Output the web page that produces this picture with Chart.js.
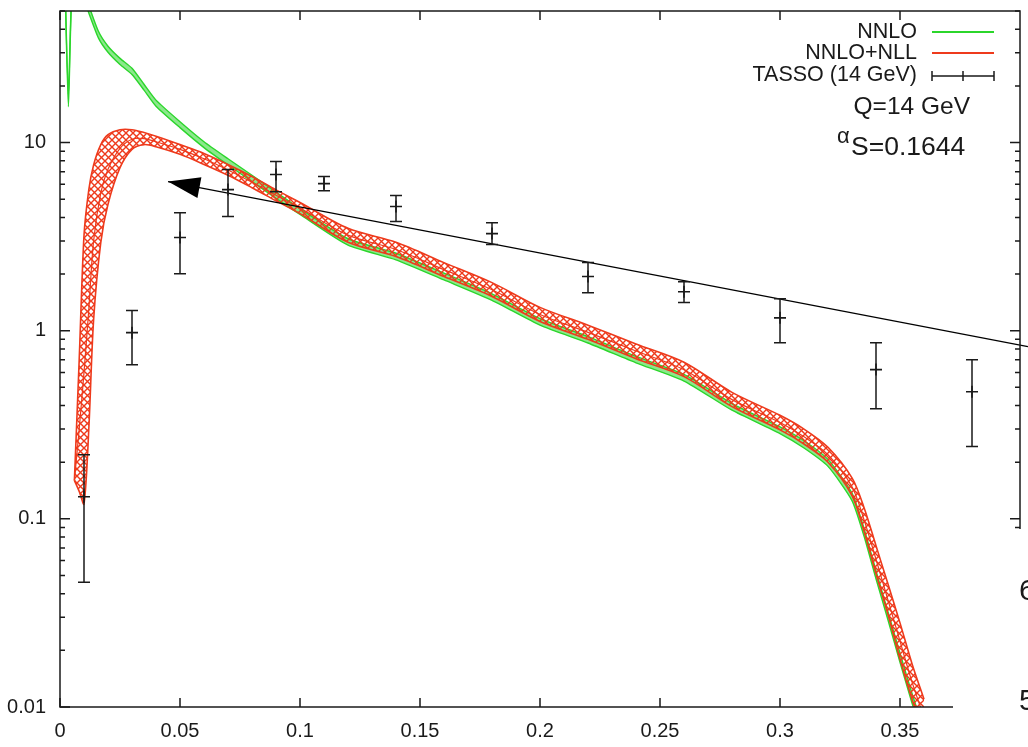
<!DOCTYPE html>
<html>
<head>
<meta charset="utf-8">
<script src="https://cdn.jsdelivr.net/npm/chart.js@4.4.0/dist/chart.umd.min.js"></script>
<style>
  html, body { margin: 0; padding: 0; background: #fff; }
  #wrap { width: 1028px; height: 747px; position: relative; }
</style>
</head>
<body>
<div id="wrap"><canvas id="c"></canvas></div>
<script>
// axis ticks
const xTicks = [0, 0.05, 0.1, 0.15, 0.2, 0.25, 0.3, 0.35];
const yTickLabels = [0.01, 0.1, 1, 10];

// NNLO band (green)
const nnloX = [0.002, 0.0035, 0.0055, 0.0105, 0.016, 0.02, 0.025, 0.03, 0.035, 0.04, 0.05, 0.06, 0.07, 0.08, 0.09, 0.1, 0.12, 0.14, 0.16, 0.18, 0.2, 0.22, 0.24, 0.26, 0.28, 0.3, 0.31, 0.32, 0.33, 0.335, 0.34, 0.345, 0.35, 0.355, 0.36];
const nnloHi = [80, 18, 80, 60, 39, 32.5, 28, 24.8, 20.4, 16.8, 12.9, 10.1, 8.2, 6.7, 5.45, 4.45, 3.08, 2.58, 2.02, 1.57, 1.16, 0.93, 0.73, 0.585, 0.41, 0.308, 0.26, 0.207, 0.137, 0.089, 0.053, 0.032, 0.0193, 0.0118, 0.0075];
const nnloLo = [80, 15.5, 80, 55, 36, 30.2, 26, 23, 19, 15.6, 12.0, 9.4, 7.6, 6.2, 5.05, 4.15, 2.85, 2.38, 1.86, 1.45, 1.07, 0.86, 0.675, 0.54, 0.378, 0.284, 0.238, 0.19, 0.125, 0.081, 0.048, 0.029, 0.0173, 0.0105, 0.0066];

// NNLO+NLL band (red)
const nllX = [0.006, 0.008, 0.01, 0.012, 0.014, 0.017, 0.02, 0.025, 0.03, 0.035, 0.04, 0.05, 0.06, 0.07, 0.08, 0.09, 0.1, 0.12, 0.14, 0.16, 0.18, 0.2, 0.22, 0.24, 0.26, 0.28, 0.3, 0.31, 0.32, 0.33, 0.335, 0.34, 0.345, 0.35, 0.355, 0.36];
const nllHi = [0.16, 0.7, 3.2, 5.6, 7.6, 9.75, 11.0, 11.7, 11.7, 11.3, 10.8, 9.75, 8.75, 7.65, 6.6, 5.6, 4.8, 3.5, 2.95, 2.3, 1.8, 1.33, 1.07, 0.85, 0.68, 0.47, 0.355, 0.30, 0.24, 0.165, 0.115, 0.072, 0.045, 0.028, 0.017, 0.011];
const nllMid = [0.16, 0.3, 0.6, 1.3, 3.0, 5.4, 7.2, 9.3, 10.4, 10.5, 10.1, 9.2, 8.2, 7.15, 6.15, 5.25, 4.48, 3.22, 2.7, 2.11, 1.65, 1.22, 0.98, 0.78, 0.62, 0.43, 0.325, 0.273, 0.219, 0.148, 0.099, 0.061, 0.037, 0.0224, 0.0136, 0.0088];
const nllLo = [0.16, 0.14, 0.12, 0.30, 1.14, 2.95, 4.7, 7.35, 9.2, 9.75, 9.5, 8.65, 7.65, 6.7, 5.75, 4.9, 4.19, 2.95, 2.48, 1.94, 1.52, 1.12, 0.9, 0.71, 0.57, 0.395, 0.297, 0.25, 0.20, 0.133, 0.086, 0.051, 0.031, 0.018, 0.011, 0.0071];

// TASSO (14 GeV) data with error bars
const tassoX = [0.01, 0.03, 0.05, 0.07, 0.09, 0.11, 0.14, 0.18, 0.22, 0.26, 0.30, 0.34, 0.38];
const tassoY = [0.131, 0.976, 3.13, 5.62, 6.76, 6.05, 4.57, 3.28, 1.94, 1.61, 1.17, 0.621, 0.474];
const tassoHi = [0.219, 1.28, 4.24, 7.18, 7.93, 6.59, 5.23, 3.75, 2.30, 1.82, 1.48, 0.863, 0.701];
const tassoLo = [0.046, 0.66, 2.01, 4.04, 5.48, 5.55, 3.80, 2.87, 1.59, 1.41, 0.863, 0.385, 0.242];

// arrow annotation (tip first)
const arrowX = [0.045, 0.4033];
const arrowY = [6.2, 0.822];

const GREEN = '#2bd62b';
const RED = '#ee3a1c';
const INK = '#1a1a1a';
const FONT = '"Liberation Sans", Arial, Helvetica, sans-serif';

const pts = (xs, ys) => xs.map((x, i) => ({ x: x, y: ys[i] }));

// cross-hatch pattern for the red band
const makeHatch = () => {
  const p = document.createElement('canvas');
  p.width = 7; p.height = 7;
  const g = p.getContext('2d');
  g.strokeStyle = RED;
  g.lineWidth = 1.4;
  g.beginPath();
  g.moveTo(0, 0); g.lineTo(7, 7);
  g.moveTo(0, 7); g.lineTo(7, 0);
  g.stroke();
  return g.createPattern(p, 'repeat');
};

const decorations = {
  id: 'decorations',
  afterDatasetsDraw(chart) {
    const ctx = chart.ctx;
    const xs = chart.scales.x, ys = chart.scales.y;
    ctx.save();
    // error bars
    ctx.strokeStyle = INK;
    ctx.lineWidth = 1.5;
    tassoX.forEach((x, i) => {
      const px = xs.getPixelForValue(x);
      const top = ys.getPixelForValue(tassoHi[i]);
      const bot = ys.getPixelForValue(tassoLo[i]);
      ctx.beginPath();
      ctx.moveTo(px, top); ctx.lineTo(px, bot);
      ctx.moveTo(px - 6, top); ctx.lineTo(px + 6, top);
      ctx.moveTo(px - 6, bot); ctx.lineTo(px + 6, bot);
      ctx.stroke();
    });
    // arrow head
    const tx = xs.getPixelForValue(arrowX[0]), ty = ys.getPixelForValue(arrowY[0]);
    const ex = xs.getPixelForValue(arrowX[1]), ey = ys.getPixelForValue(arrowY[1]);
    const len = Math.hypot(ex - tx, ey - ty);
    const ux = (ex - tx) / len, uy = (ey - ty) / len;
    const bx = tx + ux * 32, by = ty + uy * 32;
    ctx.fillStyle = '#000';
    ctx.beginPath();
    ctx.moveTo(tx, ty);
    ctx.lineTo(bx - uy * 10.5, by + ux * 10.5);
    ctx.lineTo(bx + uy * 10.5, by - ux * 10.5);
    ctx.closePath();
    ctx.fill();
    ctx.restore();
  },
  afterDraw(chart) {
    const ctx = chart.ctx;
    const a = chart.chartArea;
    const xs = chart.scales.x, ys = chart.scales.y;
    ctx.save();
    // frame
    ctx.strokeStyle = INK;
    ctx.lineWidth = 1.5;
    ctx.strokeRect(a.left, a.top, a.right - a.left, a.bottom - a.top);
    // inward ticks, mirrored
    ctx.beginPath();
    xTicks.forEach((v) => {
      const px = xs.getPixelForValue(v);
      ctx.moveTo(px, a.bottom); ctx.lineTo(px, a.bottom - 9);
      ctx.moveTo(px, a.top); ctx.lineTo(px, a.top + 9);
    });
    yTickLabels.forEach((d) => {
      for (let k = 1; k <= 9; k++) {
        const v = d * k;
        if (v > ys.max) break;
        const py = ys.getPixelForValue(v);
        const l = k === 1 ? 10 : 5;
        ctx.moveTo(a.left, py); ctx.lineTo(a.left + l, py);
        ctx.moveTo(a.right, py); ctx.lineTo(a.right - l, py);
      }
    });
    ctx.stroke();

    // key
    ctx.font = '21.5px ' + FONT;
    ctx.fillStyle = INK;
    ctx.textAlign = 'right';
    ctx.textBaseline = 'middle';
    ctx.fillText('NNLO', 917, 32);
    ctx.fillText('NNLO+NLL', 917, 53);
    ctx.fillText('TASSO (14 GeV)', 917, 75);
    ctx.lineWidth = 2;
    ctx.strokeStyle = GREEN;
    ctx.beginPath(); ctx.moveTo(932, 32); ctx.lineTo(994, 32); ctx.stroke();
    ctx.strokeStyle = RED;
    ctx.beginPath(); ctx.moveTo(932, 53); ctx.lineTo(994, 53); ctx.stroke();
    ctx.strokeStyle = INK;
    ctx.lineWidth = 1.5;
    ctx.beginPath();
    ctx.moveTo(932, 76); ctx.lineTo(994, 76);
    ctx.moveTo(932, 71); ctx.lineTo(932, 81);
    ctx.moveTo(994, 71); ctx.lineTo(994, 81);
    ctx.moveTo(963, 71); ctx.lineTo(963, 81);
    ctx.stroke();

    // labels
    ctx.font = '24.5px ' + FONT;
    ctx.fillText('Q=14 GeV', 970, 107);
    ctx.textAlign = 'left';
    ctx.font = '22px ' + FONT;
    ctx.fillText('\u03b1', 837, 137);
    ctx.font = '26.5px ' + FONT;
    ctx.fillText('S=0.1644', 851, 148);

    // page overlap in the lower right corner
    ctx.fillStyle = '#fff';
    ctx.fillRect(953, 529, 80, 220);
    ctx.fillStyle = INK;
    ctx.font = '30px ' + FONT;
    ctx.fillText('6', 1019, 592);
    ctx.fillText('5', 1019, 702);
    ctx.restore();
  }
};

const ctx = document.getElementById('c').getContext('2d');
new Chart(ctx, {
  type: 'line',
  data: {
    datasets: [
      {
        label: 'TASSO (14 GeV)',
        type: 'scatter',
        data: pts(tassoX, tassoY),
        pointStyle: 'cross',
        pointRadius: 6,
        borderColor: INK,
        backgroundColor: INK,
        pointBorderWidth: 1.6,
        showLine: false,
        order: 0,
      },
      {
        label: 'arrow',
        data: pts(arrowX, arrowY),
        borderColor: '#000',
        borderWidth: 1.2,
        pointRadius: 0,
        clip: false,
        order: 0,
      },
      {
        label: 'NNLO+NLL hi',
        data: pts(nllX, nllHi),
        borderColor: RED,
        borderWidth: 1.6,
        pointRadius: 0,
        tension: 0.3,
        order: 1,
      },
      {
        label: 'NNLO+NLL lo',
        data: pts(nllX, nllLo),
        borderColor: RED,
        borderWidth: 1.6,
        pointRadius: 0,
        tension: 0.3,
        fill: { target: 2 },
        backgroundColor: makeHatch(),
        order: 1,
      },
      {
        label: 'NNLO+NLL',
        data: pts(nllX, nllMid),
        borderColor: RED,
        borderWidth: 1.2,
        pointRadius: 0,
        tension: 0.3,
        order: 1,
      },
      {
        label: 'NNLO hi',
        data: pts(nnloX, nnloHi),
        borderColor: GREEN,
        borderWidth: 1.4,
        pointRadius: 0,
        tension: 0.2,
        order: 2,
      },
      {
        label: 'NNLO',
        data: pts(nnloX, nnloLo),
        borderColor: GREEN,
        borderWidth: 1.4,
        pointRadius: 0,
        tension: 0.2,
        fill: { target: 5 },
        backgroundColor: 'rgba(43,214,43,0.55)',
        order: 2,
      },
    ],
  },
  options: {
    responsive: true,
    maintainAspectRatio: false,
    animation: false,
    layout: { padding: { top: 11, right: 8, left: 0, bottom: 0 } },
    plugins: {
      legend: { display: false },
      tooltip: { enabled: false },
    },
    scales: {
      x: {
        type: 'linear',
        min: 0,
        max: 0.4,
        grid: { display: false, drawTicks: false },
        border: { display: false },
        afterBuildTicks: (s) => { s.ticks = xTicks.map((v) => ({ value: v })); },
        afterFit: (s) => { s.height = 40; s.paddingLeft = 0; s.paddingRight = 0; },
        ticks: {
          padding: 12,
          color: INK,
          font: { family: FONT, size: 20 },
          maxRotation: 0,
          callback: (v) => String(v),
        },
      },
      y: {
        type: 'logarithmic',
        min: 0.01,
        max: 50,
        grid: { display: false, drawTicks: false },
        border: { display: false },
        afterBuildTicks: (s) => { s.ticks = yTickLabels.map((v) => ({ value: v })); },
        afterFit: (s) => { s.width = 60; s.paddingTop = 0; s.paddingBottom = 0; },
        ticks: {
          padding: 14,
          color: INK,
          font: { family: FONT, size: 20 },
          callback: (v) => String(v),
        },
      },
    },
  },
  plugins: [decorations],
});
</script>
</body>
</html>
